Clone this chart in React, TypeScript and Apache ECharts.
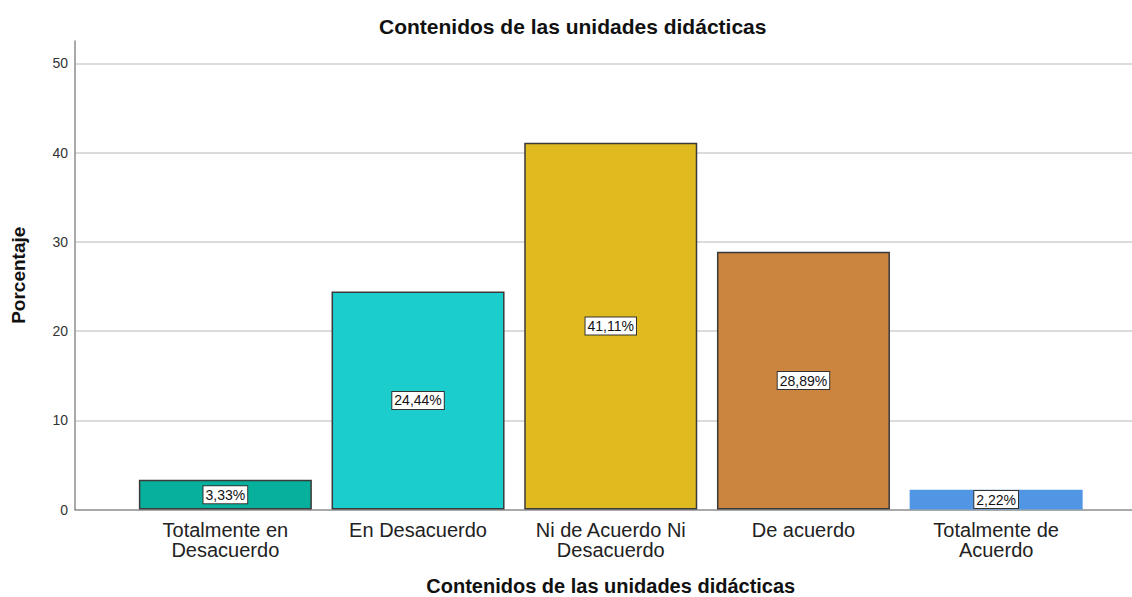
import React, { useEffect, useRef } from "react";
import * as echarts from "echarts";

const titleText = "Contenidos de las unidades didácticas";
const categories = [
  "Totalmente en\nDesacuerdo",
  "En Desacuerdo",
  "Ni de Acuerdo Ni\nDesacuerdo",
  "De acuerdo",
  "Totalmente de\nAcuerdo",
];
const values = [3.33, 24.44, 41.11, 28.89, 2.22];
const barColors = ["#07b09c", "#1ccdcd", "#e0bb20", "#cc853e", "#5196e4"];
const barBorders = ["#3a3a3a", "#3a3a3a", "#3a3a3a", "#3a3a3a", "transparent"];
const yMax = 52.5;
const yInterval = 10;

const FONT = "'Liberation Sans', Arial, sans-serif";

export default function App() {
  const ref = useRef<HTMLDivElement>(null);
  useEffect(() => {
    if (!ref.current) return;
    const chart = echarts.init(ref.current, null, { renderer: "svg" });
    chart.setOption({
      animation: false,
      backgroundColor: "#ffffff",
      textStyle: { fontFamily: FONT },
      title: {
        text: titleText,
        left: 374,
        top: 11,
        textStyle: { fontFamily: FONT, fontSize: 21, fontWeight: "bold", color: "#111" },
      },
      grid: [
        { left: 75, right: 0, top: 41, bottom: 87.5, outerBoundsMode: "none", containLabel: false },
        { left: 129, right: 39.5, top: 41, bottom: 87.5, outerBoundsMode: "none", containLabel: false },
      ],
      xAxis: [
        {
          type: "value",
          gridIndex: 0,
          min: 0,
          max: 1,
          axisLine: { show: true, onZero: false, lineStyle: { color: "#8c8c8c", width: 1.5 } },
          axisTick: { show: false },
          axisLabel: { show: false },
          splitLine: { show: false },
        },
        {
          type: "category",
          gridIndex: 1,
          data: categories,
          axisLine: { show: false },
          axisTick: { show: false },
          axisLabel: {
            color: "#222",
            fontSize: 20,
            lineHeight: 20,
            margin: 10,
            interval: 0,
            fontFamily: FONT,
          },
          name: titleText,
          nameLocation: "middle",
          nameGap: 66,
          nameTextStyle: { fontFamily: FONT, fontSize: 20, fontWeight: "bold", color: "#111" },
        },
      ],
      yAxis: [
        {
          type: "value",
          gridIndex: 0,
          min: 0,
          max: yMax,
          interval: yInterval,
          axisLine: { show: true, lineStyle: { color: "#8c8c8c", width: 1.5 } },
          axisTick: { show: false },
          axisLabel: { color: "#333", fontSize: 14, margin: 7, showMaxLabel: false, fontFamily: FONT },
          splitLine: {
            show: true,
            showMinLine: false,
            showMaxLine: false,
            lineStyle: { color: "#cfcfcf", width: 1.5 },
          },
          name: "Porcentaje",
          nameLocation: "middle",
          nameGap: 47,
          nameTextStyle: { fontFamily: FONT, fontSize: 19, fontWeight: "bold", color: "#111" },
        },
        {
          type: "value",
          gridIndex: 1,
          min: 0,
          max: yMax,
          interval: yInterval,
          show: false,
          splitLine: { show: false },
        },
      ],
      series: [
        {
          type: "bar",
          xAxisIndex: 1,
          yAxisIndex: 1,
          barWidth: 173,
          data: values.map((v, i) => ({
            value: v,
            itemStyle: {
              color: barColors[i],
              borderColor: barBorders[i],
              borderWidth: i === 4 ? 0 : 1.5,
            },
          })),
          label: {
            show: true,
            position: "inside",
            formatter: (p: any) => p.value.toFixed(2).replace(".", ",") + "%",
            color: "#111",
            fontSize: 14,
            fontFamily: FONT,
            backgroundColor: "#ffffff",
            borderColor: "#333",
            borderWidth: 1,
            padding: [2, 2, 1, 2],
          },
        },
      ],
    });
    return () => chart.dispose();
  }, []);
  return (
    <div
      ref={ref}
      style={{ position: "fixed", left: 0, top: 0, width: 1132, height: 597 }}
    />
  );
}
